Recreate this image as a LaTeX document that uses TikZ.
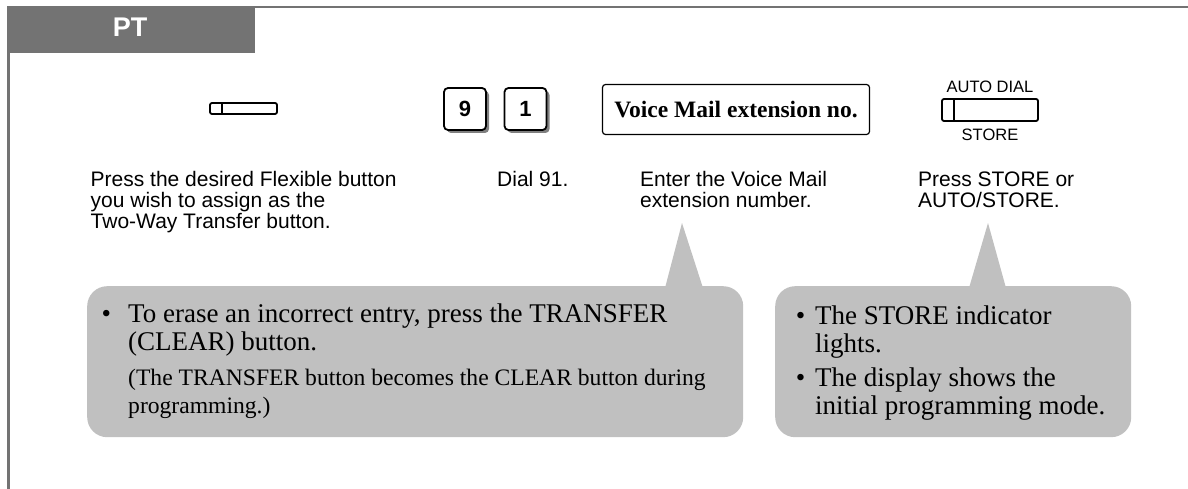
\documentclass[tikz,border=0pt]{standalone}
\usepackage{fontspec}
\setmainfont{Liberation Serif}
\setsansfont{Liberation Sans}
\usetikzlibrary{shadows}
\definecolor{hdr}{HTML}{737373}
\definecolor{bub}{HTML}{C0C0C0}
\definecolor{shd}{HTML}{808080}
\tikzset{
  sanstext/.style={font=\sffamily\fontsize{21}{20.5}\selectfont, inner sep=0pt, align=left, anchor=base west},
  keycap/.style={draw, line width=1.8pt, rounded corners=4pt, fill=white, minimum width=42pt, minimum height=42pt, inner sep=0pt,
    font=\sffamily\bfseries\fontsize{22}{22}\selectfont,
    drop shadow={shadow xshift=3pt, shadow yshift=-3pt, fill=shd, opacity=1}},
  btn/.style={draw, line width=1.8pt, rounded corners=2pt, inner sep=0pt},
  bubble/.style={fill=bub, rounded corners=20pt, inner sep=0pt, anchor=north west},
  bubtext/.style={font=\fontsize{27}{28}\selectfont, inner sep=0pt, align=left, anchor=base west},
  bubsmall/.style={font=\fontsize{23.6}{28}\selectfont, inner sep=0pt, align=left, anchor=base west},
  smalllabel/.style={font=\sffamily\fontsize{16.5}{16.5}\selectfont, inner sep=0pt, anchor=base},
}
\begin{document}
\begin{tikzpicture}[x=1pt, y=-1pt]
\useasboundingbox (0,0) rectangle (1188,489);
% frame
\draw[hdr, line width=2.5pt] (7,7.2) -- (1188,7.2);
\draw[hdr, line width=2.5pt] (8.7,53) -- (8.7,489);
\node (hdrbox) [fill=hdr, minimum width=248pt, minimum height=47pt, inner sep=0pt, anchor=north west] at (7,6) {};
\node (pt) [font=\sffamily\bfseries\fontsize{27}{27}\selectfont, text=white, inner sep=0pt, anchor=base] at (130,37) {PT};

% flexible button
\node (flex) [btn, minimum width=67pt, minimum height=11pt] at (243.5,108.5) {};
\draw[line width=1.8pt] ([xshift=13pt]flex.north west) -- ([xshift=13pt]flex.south west);

% keys 9 and 1
\node (k9) [keycap] at (465,109) {9};
\node (k1) [keycap] at (525.5,109) {1};

% voice mail box
\node (vm) [draw, line width=1.2pt, rounded corners=3pt, minimum width=267pt, minimum height=50pt, inner sep=0pt,
  font=\bfseries\fontsize{23.5}{23.5}\selectfont] at (736,109.5) {Voice Mail extension no.};

% auto dial / store button
\node (ad) [btn, minimum width=96pt, minimum height=22pt] at (990,110) {};
\draw[line width=1.8pt] ([xshift=13pt]ad.north west) -- ([xshift=13pt]ad.south west);
\node (adl) [smalllabel] at (990,93) {AUTO DIAL};
\node (stl) [smalllabel] at (990,141) {STORE};

% step texts (base anchor = baseline of the last line)
\node (t1) [sanstext] at (90.5,228) {Press the desired Flexible button\\you wish to assign as the\\Two-Way Transfer button.};
\node (t2) [sanstext] at (497,187) {Dial 91.};
\node (t3) [sanstext] at (640,207.5) {Enter the Voice Mail\\extension number.};
\node (t4) [sanstext] at (918,207.5) {Press STORE or\\AUTO/STORE.};

% callouts
\node (c1) [bubble, minimum width=656pt, minimum height=151pt] at (87,286) {};
\coordinate (a1) at (682,223);
\fill[bub] ([xshift=578pt,yshift=-2pt]c1.north west) -- (a1) -- ([xshift=616pt,yshift=-2pt]c1.north west) -- cycle;

\node (c2) [bubble, minimum width=356pt, minimum height=151pt] at (775,286) {};
\coordinate (a2) at (988,223);
\fill[bub] ([xshift=194pt,yshift=-2pt]c2.north west) -- (a2) -- ([xshift=231pt,yshift=-2pt]c2.north west) -- cycle;

\node (c1a) [bubtext] at (128,350) {\llap{\textbullet\hspace{17pt}}To erase an incorrect entry, press the TRANSFER\\(CLEAR) button.};
\node (c1b) [bubsmall] at (128,413) {(The TRANSFER button becomes the CLEAR button during\\programming.)};

\node (c2a) [bubtext] at (815,352) {\llap{\textbullet\hspace{10pt}}The STORE indicator\\lights.};
\node (c2b) [bubtext] at (815,414) {\llap{\textbullet\hspace{10pt}}The display shows the\\initial programming mode.};
\end{tikzpicture}
\end{document}
